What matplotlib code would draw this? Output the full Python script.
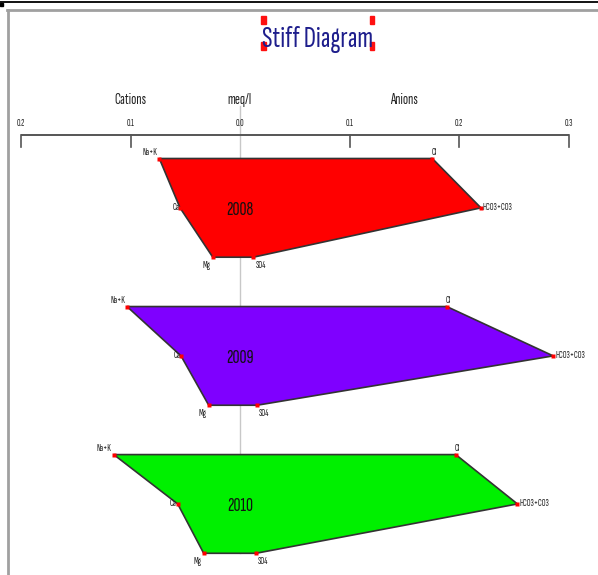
import matplotlib
matplotlib.use("Agg")
import matplotlib.pyplot as plt
from matplotlib import font_manager
from matplotlib.patches import Polygon, Rectangle
from matplotlib.lines import Line2D

# ---- data (meq/l) ----
years = ["2008", "2009", "2010"]
cation_names = ["Na+K", "Ca", "Mg"]
anion_names = ["Cl", "HCO3+CO3", "SO4"]
cations = {
    "2008": [0.0737, 0.0548, 0.0249],
    "2009": [0.1032, 0.0539, 0.0286],
    "2010": [0.1153, 0.0569, 0.0332],
}
anions = {
    "2008": [0.1756, 0.2200, 0.0121],
    "2009": [0.1888, 0.2860, 0.0155],
    "2010": [0.1970, 0.2533, 0.0146],
}
fill_colors = {"2008": "#ff0000", "2009": "#7f00ff", "2010": "#00f000"}
tick_values = [-0.2, -0.1, 0.0, 0.1, 0.2, 0.3]

# ---- fonts ----
available = {f.name for f in font_manager.fontManager.ttflist}
condensed = next((n for n in ("Sofia Sans Extra Condensed", "Pragati Narrow", "Archivo Narrow")
                  if n in available), "Liberation Sans")
FAM = [condensed, "DejaVu Sans"]

W, H = 598, 575
fig = plt.figure(figsize=(W / 100, H / 100), dpi=100)
fig.patch.set_facecolor("white")
ax = fig.add_axes([0, 0, 1, 1])
ax.set_xlim(-0.2192, 0.3269)
ax.set_ylim(8.44, -3.212)
ax.axis("off")


def fx(px):
    return px / W


def fy(py):
    return 1 - py / H


# window frame lines
fig.add_artist(Line2D([0, 1], [fy(2), fy(2)], color="black", lw=1.3, transform=fig.transFigure))
fig.add_artist(Rectangle((0, fy(6)), fx(3), 3 / H, color="black", transform=fig.transFigure))
fig.add_artist(Line2D([fx(7), 1], [fy(10), fy(10)], color="#a0a0a0", lw=2.0, transform=fig.transFigure))
fig.add_artist(Line2D([fx(7.5), fx(7.5)], [fy(10), 0], color="#a0a0a0", lw=2.0, transform=fig.transFigure))

# title with selection handles
fig.text(fx(318), fy(47), "Stiff Diagram", color="#1e1e8c", fontsize=22,
         family=FAM, fontweight="medium", ha="center", va="baseline")
for hx in (261, 369.5):
    for hy in (16, 42):
        fig.add_artist(Rectangle((fx(hx), fy(hy + 8)), 4.5 / W, 8 / H,
                                 color="#ff1010", transform=fig.transFigure))

# top axis
row_gap_px = 49.35
axis_y = -(158.5 - 134.5) / row_gap_px
tick_end = -(158.5 - 147) / row_gap_px
label_y = -(158.5 - 123) / row_gap_px
head_y = -(158.5 - 100) / row_gap_px
ax.plot([tick_values[0], tick_values[-1]], [axis_y, axis_y], color="#555555", lw=1.4,
        solid_capstyle="butt")
for t in tick_values:
    if t != 0.0:
        ax.plot([t, t], [axis_y, tick_end], color="#555555", lw=1.2)
    ax.text(t, label_y, f"{abs(t):.1f}", fontsize=7, family=FAM, color="#222222",
            ha="center", va="center")
for xv, word in ((-0.1, "Cations"), (0.0, "meq/l"), (0.15, "Anions")):
    ax.text(xv, head_y, word, fontsize=11, family=FAM, color="#222222", ha="center", va="center")

# centre line
n_rows = len(years) * 3
ax.plot([0, 0], [-(158.5 - 106) / row_gap_px, n_rows - 1], color="#c8c8c8", lw=1.0, zorder=1)

# stiff polygons
offsets = {
    "Na+K": ((-2, 2), "right", "bottom"),
    "Ca": ((-1, 0), "right", "center"),
    "Mg": ((-2, -4), "right", "top"),
    "Cl": ((-1, 2), "left", "bottom"),
    "HCO3+CO3": ((2, 0), "left", "center"),
    "SO4": ((2, -4), "left", "top"),
}
for k, yr in enumerate(years):
    rows = [3 * k, 3 * k + 1, 3 * k + 2]
    cat = cations[yr]
    an = anions[yr]
    verts = [(-cat[0], rows[0]), (an[0], rows[0]), (an[1], rows[1]), (an[2], rows[2]),
             (-cat[2], rows[2]), (-cat[1], rows[1])]
    ax.add_patch(Polygon(verts, closed=True, facecolor=fill_colors[yr],
                         edgecolor="#333333", lw=1.2, zorder=2))
    xs = [-c for c in cat] + an
    ys = rows + rows
    ax.plot(xs, ys, "s", color="#ff0000", ms=2.2, mec="none", zorder=3)
    for name, x, y in zip(cation_names + anion_names, xs, ys):
        off, ha, va = offsets[name]
        ax.annotate(name, (x, y), xytext=off, textcoords="offset pixels",
                    fontsize=7, family=FAM, color="#222222", ha=ha, va=va, zorder=4)
    ax.annotate(yr, (0, rows[1]), xytext=(0, -2), textcoords="offset pixels",
                fontsize=14, family=FAM, color="#111111", ha="center", va="center", zorder=4)

fig.savefig("out.png", dpi=100, facecolor="white")
